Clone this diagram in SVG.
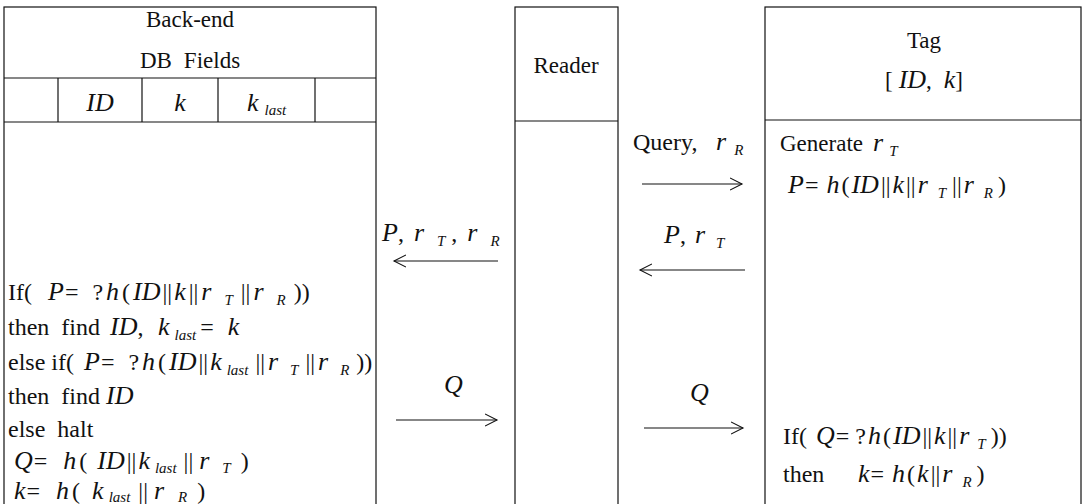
<svg xmlns="http://www.w3.org/2000/svg" width="1083" height="504" viewBox="0 0 1083 504">
<style>
  .box{fill:none;stroke:#111;stroke-width:1.2}
  .ln{stroke:#111;stroke-width:1.2;fill:none}
  .t{font-family:"Liberation Serif","Times New Roman",serif;font-size:24px;fill:#111}
  .h{font-size:23px}
  .m{font-style:italic;font-size:26px}
  .s{font-style:italic;font-size:15px}
  .c{text-anchor:middle}
  .arr{stroke:#111;stroke-width:1.1;fill:none}
</style>
<defs>
  <marker id="head" markerWidth="14" markerHeight="14" refX="12" refY="7" orient="auto" markerUnits="userSpaceOnUse">
    <path d="M0,1 L12,7 L0,13" fill="none" stroke="#111" stroke-width="1.1"/>
  </marker>
</defs>
<rect width="1083" height="504" fill="#fff"/>

<g id="backend">
  <rect class="box" x="4" y="7" width="372" height="520"/>
  <line class="ln" x1="4" y1="78" x2="376" y2="78"/>
  <line class="ln" x1="4" y1="122" x2="376" y2="122"/>
  <line class="ln" x1="58" y1="78" x2="58" y2="122"/>
  <line class="ln" x1="142" y1="78" x2="142" y2="122"/>
  <line class="ln" x1="218" y1="78" x2="218" y2="122"/>
  <line class="ln" x1="315" y1="78" x2="315" y2="122"/>
  <text class="t h c" x="190" y="27">Back-end</text>
  <text class="t h c" x="190" y="68">DB<tspan dx="12">Fields</tspan></text>
  <text class="t m c" x="100" y="111">ID</text>
  <text class="t m c" x="180" y="111">k</text>
  <text class="t" x="247" y="111"><tspan class="m">k</tspan><tspan class="s" dx="6" dy="4">last</tspan></text>
  <text class="t" x="8" y="300">If(<tspan class="m" x="48">P</tspan><tspan dx="1">=</tspan><tspan dx="14">?</tspan><tspan class="m" dx="3">h</tspan><tspan dx="3">(</tspan><tspan class="m" dx="3">ID</tspan><tspan dx="2">||</tspan><tspan class="m" dx="2">k</tspan><tspan dx="3">||</tspan><tspan class="m" dx="3">r</tspan><tspan class="s" dx="13" dy="5">T</tspan><tspan dx="8" dy="-5">||</tspan><tspan class="m" dx="3">r</tspan><tspan class="s" dx="13" dy="5">R</tspan><tspan dx="8" dy="-5">))</tspan></text>
  <text class="t" x="8" y="335">then<tspan dx="12">find</tspan><tspan class="m" x="110">ID</tspan>,<tspan class="m" x="158">k</tspan><tspan class="s" dx="5" dy="5">last</tspan><tspan dx="4" dy="-5">=</tspan><tspan class="m" dx="14">k</tspan></text>
  <text class="t" x="8" y="370">else<tspan dx="6">if(</tspan><tspan class="m" x="84">P</tspan><tspan dx="1">=</tspan><tspan dx="14">?</tspan><tspan class="m" dx="3">h</tspan><tspan dx="3">(</tspan><tspan class="m" dx="3">ID</tspan><tspan dx="2">||</tspan><tspan class="m" dx="2">k</tspan><tspan class="s" dx="5" dy="5">last</tspan><tspan dx="7" dy="-5">||</tspan><tspan class="m" dx="3">r</tspan><tspan class="s" dx="12" dy="5">T</tspan><tspan dx="7" dy="-5">||</tspan><tspan class="m" dx="3">r</tspan><tspan class="s" dx="12" dy="5">R</tspan><tspan dx="7" dy="-5">))</tspan></text>
  <text class="t" x="8" y="404">then<tspan dx="12">find</tspan><tspan class="m" dx="6">ID</tspan></text>
  <text class="t" x="8" y="437">else<tspan dx="12">halt</tspan></text>
  <text class="t" x="14" y="469"><tspan class="m">Q</tspan><tspan dx="1">=</tspan><tspan class="m" dx="16">h</tspan><tspan dx="3">(</tspan><tspan class="m" dx="10">ID</tspan><tspan dx="2">||</tspan><tspan class="m" dx="2">k</tspan><tspan class="s" dx="5" dy="4">last</tspan><tspan dx="7" dy="-4">||</tspan><tspan class="m" dx="6">r</tspan><tspan class="s" dx="13" dy="4">T</tspan><tspan dx="10" dy="-4">)</tspan></text>
  <text class="t" x="14" y="499"><tspan class="m">k</tspan><tspan dx="1">=</tspan><tspan class="m" dx="16">h</tspan><tspan dx="3">(</tspan><tspan class="m" dx="12">k</tspan><tspan class="s" dx="5" dy="3">last</tspan><tspan dx="8" dy="-3">||</tspan><tspan class="m" dx="6">r</tspan><tspan class="s" dx="14" dy="3">R</tspan><tspan dx="10" dy="-3">)</tspan></text>
</g>

<g id="reader">
  <rect class="box" x="515" y="7" width="103" height="520"/>
  <line class="ln" x1="515" y1="121" x2="618" y2="121"/>
  <text class="t h c" x="566" y="73">Reader</text>
</g>

<g id="tag">
  <rect class="box" x="765" y="7" width="316" height="520"/>
  <line class="ln" x1="765" y1="120" x2="1081" y2="120"/>
  <text class="t h c" x="924" y="48">Tag</text>
  <text class="t h c" x="924" y="88">[<tspan class="m" dx="6">ID</tspan>,<tspan class="m" dx="12">k</tspan>]</text>
  <text class="t" x="780" y="151"><tspan class="h">Generate</tspan><tspan class="m" dx="10">r</tspan><tspan class="s" dx="6" dy="5">T</tspan></text>
  <text class="t" x="788" y="193"><tspan class="m">P</tspan><tspan dx="1">=</tspan><tspan class="m" dx="8">h</tspan><tspan dx="2">(</tspan><tspan class="m" dx="2">ID</tspan><tspan dx="2">||</tspan><tspan class="m" dx="2">k</tspan><tspan dx="2">||</tspan><tspan class="m" dx="2">r</tspan><tspan class="s" dx="10" dy="5">T</tspan><tspan dx="6" dy="-5">||</tspan><tspan class="m" dx="2">r</tspan><tspan class="s" dx="10" dy="5">R</tspan><tspan dx="5" dy="-5">)</tspan></text>
  <text class="t" x="783" y="444">If(<tspan class="m" dx="9">Q</tspan><tspan dx="1">=</tspan><tspan dx="6">?</tspan><tspan class="m" dx="2">h</tspan><tspan dx="2">(</tspan><tspan class="m" dx="2">ID</tspan><tspan dx="2">||</tspan><tspan class="m" dx="2">k</tspan><tspan dx="2">||</tspan><tspan class="m" dx="2">r</tspan><tspan class="s" dx="8" dy="5">T</tspan><tspan dx="5" dy="-5">))</tspan></text>
  <text class="t" x="783" y="482">then<tspan class="m" x="858">k</tspan><tspan dx="1">=</tspan><tspan class="m" dx="8">h</tspan><tspan dx="2">(</tspan><tspan class="m" dx="2">k</tspan><tspan dx="2">||</tspan><tspan class="m" dx="2">r</tspan><tspan class="s" dx="10" dy="5">R</tspan><tspan dx="5" dy="-5">)</tspan></text>
</g>

<g id="connectors">
  <text class="t" x="382" y="241"><tspan class="m">P</tspan>,<tspan class="m" dx="10">r</tspan><tspan class="s" dx="13" dy="5">T</tspan><tspan dx="6" dy="-5">,</tspan><tspan class="m" dx="10">r</tspan><tspan class="s" dx="13" dy="5">R</tspan></text>
  <line class="arr" x1="498" y1="261" x2="394" y2="261" marker-end="url(#head)"/>
  <text class="t m" x="444" y="393">Q</text>
  <line class="arr" x1="396" y1="420" x2="497" y2="420" marker-end="url(#head)"/>

  <text class="t" x="633" y="150">Query,<tspan class="m" x="716">r</tspan><tspan class="s" dx="8" dy="5">R</tspan></text>
  <line class="arr" x1="642" y1="184" x2="742" y2="184" marker-end="url(#head)"/>
  <text class="t" x="664" y="243"><tspan class="m">P</tspan>,<tspan class="m" dx="9">r</tspan><tspan class="s" dx="11" dy="5">T</tspan></text>
  <line class="arr" x1="745" y1="270" x2="640" y2="270" marker-end="url(#head)"/>
  <text class="t m" x="690" y="401">Q</text>
  <line class="arr" x1="644" y1="428" x2="743" y2="428" marker-end="url(#head)"/>
</g>
</svg>
